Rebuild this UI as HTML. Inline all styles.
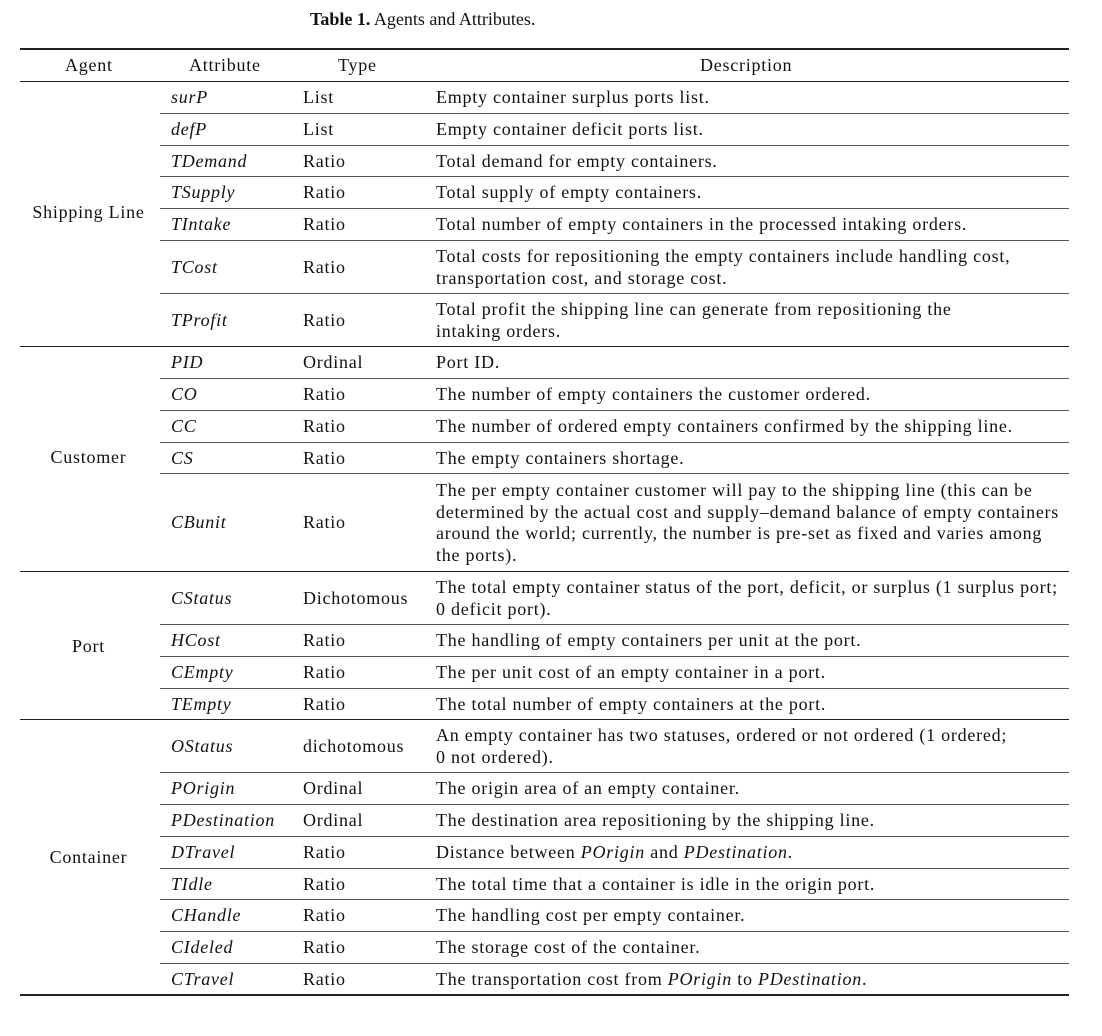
<!DOCTYPE html>
<html><head><meta charset="utf-8"><style>
body{margin:0;width:1102px;height:1036px;background:#fff;font-family:"Liberation Serif",serif;font-size:18px;letter-spacing:0.75px;color:#111;position:relative;overflow:hidden}
.r{position:absolute;left:20px;width:1049px}
.c{position:absolute;top:0;bottom:0;display:flex;align-items:center;white-space:nowrap;line-height:21.5px}
.a{left:151px}.t{left:283px}.d{left:416px}
i{font-style:italic}
.hl{position:absolute;background:#222}
.ag{position:absolute;left:20px;width:137px;text-align:center;white-space:nowrap}
</style></head><body>
<div style="position:absolute;top:9px;left:310px;white-space:nowrap;letter-spacing:0px"><b>Table 1.</b> Agents and Attributes.</div>
<div class="hl" style="left:20px;width:1049px;top:48px;height:2px"></div>
<div class="hl" style="left:20px;width:1049px;top:81px;height:1px"></div>
<div class="hl" style="left:20px;width:1049px;top:346px;height:1px"></div>
<div class="hl" style="left:20px;width:1049px;top:571px;height:1px"></div>
<div class="hl" style="left:20px;width:1049px;top:719px;height:1px"></div>
<div class="hl" style="left:20px;width:1049px;top:994px;height:2px"></div>

<div class="r" style="top:50px;height:32px"><div class="c" style="left:45px">Agent</div><div class="c" style="left:169px">Attribute</div><div class="c" style="left:318px">Type</div><div class="c" style="left:680px">Description</div></div>

<div class="ag" style="top:202px">Shipping Line</div>
<div class="ag" style="top:447px">Customer</div>
<div class="ag" style="top:636px">Port</div>
<div class="ag" style="top:847px">Container</div>

<div id="rows"></div>
<script>
var rows=[
[82,114,"surP","List","Empty container surplus ports list."],
[114,146,"defP","List","Empty container deficit ports list."],
[146,177,"TDemand","Ratio","Total demand for empty containers."],
[177,209,"TSupply","Ratio","Total supply of empty containers."],
[209,241,"TIntake","Ratio","Total number of empty containers in the processed intaking orders."],
[241,294,"TCost","Ratio","Total costs for repositioning the empty containers include handling cost,<br>transportation cost, and storage cost."],
[294,347,"TProfit","Ratio","Total profit the shipping line can generate from repositioning the<br>intaking orders."],
[347,379,"PID","Ordinal","Port ID."],
[379,411,"CO","Ratio","The number of empty containers the customer ordered."],
[411,443,"CC","Ratio","The number of ordered empty containers confirmed by the shipping line."],
[443,474,"CS","Ratio","The empty containers shortage."],
[474,572,"CBunit","Ratio","The per empty container customer will pay to the shipping line (this can be<br>determined by the actual cost and supply–demand balance of empty containers<br>around the world; currently, the number is pre-set as fixed and varies among<br>the ports)."],
[572,625,"CStatus","Dichotomous","The total empty container status of the port, deficit, or surplus (1 surplus port;<br>0 deficit port)."],
[625,657,"HCost","Ratio","The handling of empty containers per unit at the port."],
[657,689,"CEmpty","Ratio","The per unit cost of an empty container in a port."],
[689,720,"TEmpty","Ratio","The total number of empty containers at the port."],
[720,773,"OStatus","dichotomous","An empty container has two statuses, ordered or not ordered (1 ordered;<br>0 not ordered)."],
[773,805,"POrigin","Ordinal","The origin area of an empty container."],
[805,837,"PDestination","Ordinal","The destination area repositioning by the shipping line."],
[837,869,"DTravel","Ratio","Distance between <i>POrigin</i> and <i>PDestination</i>."],
[869,900,"TIdle","Ratio","The total time that a container is idle in the origin port."],
[900,932,"CHandle","Ratio","The handling cost per empty container."],
[932,964,"CIdeled","Ratio","The storage cost of the container."],
[964,995,"CTravel","Ratio","The transportation cost from <i>POrigin</i> to <i>PDestination</i>."]];
var h="",ends={347:1,572:1,720:1,995:1};
rows.forEach(function(r){
h+='<div class="r" style="top:'+r[0]+'px;height:'+(r[1]-r[0])+'px"><div class="c a"><i>'+r[2]+'</i></div><div class="c t">'+r[3]+'</div><div class="c d"><span>'+r[4]+'</span></div></div>';
if(!ends[r[1]])h+='<div class="hl" style="left:160px;width:909px;top:'+(r[1]-1)+'px;height:1px;background:#555"></div>';
});
document.getElementById("rows").innerHTML=h;
</script>
</body></html>
